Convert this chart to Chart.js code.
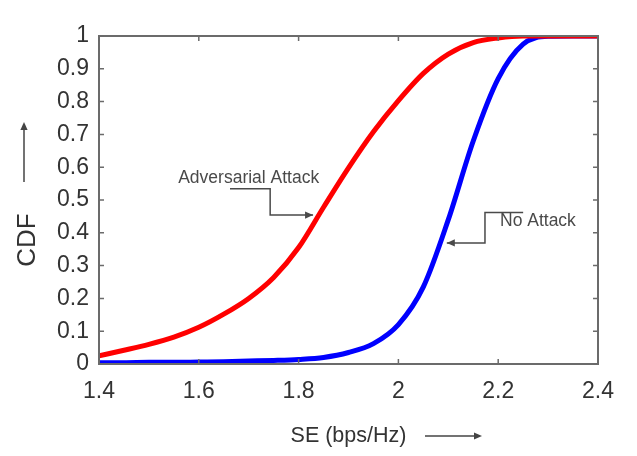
<!DOCTYPE html>
<html>
<head>
<meta charset="utf-8">
<script src="https://cdn.jsdelivr.net/npm/chart.js@4.4.1/dist/chart.umd.min.js"></script>
<style>
  html, body { margin: 0; padding: 0; background: #ffffff; }
  #wrap { width: 637px; height: 456px; position: relative; }
</style>
</head>
<body>
<div id="wrap"><canvas id="c" width="637" height="456"></canvas></div>
<script>
// ---- data ----
const seValues = [1.40, 1.45, 1.50, 1.55, 1.60, 1.65, 1.70, 1.75, 1.80, 1.85, 1.90, 1.95, 2.00, 2.05, 2.10, 2.15, 2.20, 2.25, 2.30, 2.35, 2.40];
const adversarialCdf = [0.025, 0.042, 0.060, 0.082, 0.112, 0.152, 0.200, 0.264, 0.355, 0.478, 0.598, 0.708, 0.803, 0.886, 0.945, 0.980, 0.994, 1.000, 1.000, 1.000, 1.000];
const noAttackCdf = [0.004, 0.004, 0.005, 0.005, 0.006, 0.007, 0.009, 0.011, 0.014, 0.020, 0.035, 0.062, 0.120, 0.235, 0.440, 0.680, 0.870, 0.975, 0.999, 1.000, 1.000];
const xTickValues = [1.4, 1.6, 1.8, 2.0, 2.2, 2.4];
const yTickValues = [0, 0.1, 0.2, 0.3, 0.4, 0.5, 0.6, 0.7, 0.8, 0.9, 1];
const xTitle = 'SE (bps/Hz)';
const yTitle = 'CDF';
const annotations = [
  { text: 'Adversarial Attack', textAt: [1.70, 0.567], align: 'center',
    path: [[1.6625, 0.534], [1.743, 0.534], [1.743, 0.454], [1.829, 0.454]] },
  { text: 'No Attack', textAt: [2.2036, 0.436], align: 'left',
    path: [[2.25, 0.462], [2.1735, 0.462], [2.1735, 0.369], [2.097, 0.369]] }
];

const toPts = (ys) => seValues.map((x, i) => ({ x: x, y: ys[i] }));
const fmt = (v) => String(+v.toFixed(1));

function arrowHead(ctx, x, y, dir, size) {
  ctx.save();
  ctx.translate(x, y);
  ctx.rotate(dir);
  ctx.beginPath();
  ctx.moveTo(0, 0);
  ctx.lineTo(-size, -size * 0.45);
  ctx.lineTo(-size, size * 0.45);
  ctx.closePath();
  ctx.fill();
  ctx.restore();
}

const decor = {
  id: 'decor',
  afterDatasetsDraw(chart) {
    const { ctx, chartArea: a, scales: { x, y } } = chart;
    ctx.save();
    // frame
    ctx.strokeStyle = '#6b6b6b';
    ctx.lineWidth = 2;
    ctx.strokeRect(a.left, a.top, a.right - a.left, a.bottom - a.top);
    // inward tick marks on all four sides
    ctx.lineWidth = 1.5;
    const tl = 5;
    xTickValues.forEach(v => {
      const px = x.getPixelForValue(v);
      ctx.beginPath();
      ctx.moveTo(px, a.bottom); ctx.lineTo(px, a.bottom - tl);
      ctx.moveTo(px, a.top); ctx.lineTo(px, a.top + tl);
      ctx.stroke();
    });
    yTickValues.forEach(v => {
      const py = y.getPixelForValue(v);
      ctx.beginPath();
      ctx.moveTo(a.left, py); ctx.lineTo(a.left + tl, py);
      ctx.moveTo(a.right, py); ctx.lineTo(a.right - tl, py);
      ctx.stroke();
    });

    // annotations
    ctx.font = '17.5px "Liberation Sans", Arial, sans-serif';
    ctx.fillStyle = '#4a4a4a';
    ctx.strokeStyle = '#4a4a4a';
    ctx.textBaseline = 'middle';
    annotations.forEach(an => {
      ctx.textAlign = an.align;
      ctx.fillText(an.text, x.getPixelForValue(an.textAt[0]), y.getPixelForValue(an.textAt[1]));
      const pts = an.path.map(p => [x.getPixelForValue(p[0]), y.getPixelForValue(p[1])]);
      ctx.lineWidth = 1.5;
      ctx.beginPath();
      pts.forEach((p, i) => i ? ctx.lineTo(p[0], p[1]) : ctx.moveTo(p[0], p[1]));
      ctx.stroke();
      const n = pts.length;
      const dir = Math.atan2(pts[n-1][1] - pts[n-2][1], pts[n-1][0] - pts[n-2][0]);
      arrowHead(ctx, pts[n-1][0], pts[n-1][1], dir, 8);
    });

    // y-axis title with arrow
    ctx.fillStyle = '#333333';
    ctx.strokeStyle = '#444444';
    ctx.font = '26px "Liberation Sans", Arial, sans-serif';
    ctx.save();
    ctx.translate(28, a.top + 204);
    ctx.rotate(-Math.PI / 2);
    ctx.textAlign = 'center';
    ctx.textBaseline = 'middle';
    ctx.fillText(yTitle, 0, 0);
    ctx.restore();
    ctx.lineWidth = 1.5;
    ctx.beginPath();
    ctx.moveTo(24, a.top + 146); ctx.lineTo(24, a.top + 92);
    ctx.stroke();
    ctx.fillStyle = '#444444';
    arrowHead(ctx, 24, a.top + 86, -Math.PI / 2, 8);

    // x-axis title arrow
    ctx.beginPath();
    ctx.moveTo(a.left + 326, 436); ctx.lineTo(a.left + 377, 436);
    ctx.stroke();
    arrowHead(ctx, a.left + 383, 436, 0, 8);
    ctx.restore();
  }
};

new Chart(document.getElementById('c'), {
  type: 'line',
  data: {
    datasets: [
      { label: 'Adversarial Attack', data: toPts(adversarialCdf), borderColor: '#ff0000',
        borderWidth: 5, pointRadius: 0, cubicInterpolationMode: 'monotone', fill: false },
      { label: 'No Attack', data: toPts(noAttackCdf), borderColor: '#0000ff',
        borderWidth: 5, pointRadius: 0, cubicInterpolationMode: 'monotone', fill: false }
    ]
  },
  options: {
    responsive: false,
    animation: false,
    devicePixelRatio: 1,
    layout: { padding: { top: 36, right: 39, left: 0, bottom: 0 } },
    plugins: { legend: { display: false }, tooltip: { enabled: false } },
    scales: {
      x: {
        type: 'linear', min: 1.4, max: 2.4,
        afterBuildTicks: (s) => { s.ticks = xTickValues.map(v => ({ value: v })); },
        afterFit: (s) => { s.height = 92; },
        grid: { display: false, drawTicks: false },
        border: { display: false },
        ticks: { color: '#333333', padding: 14, maxRotation: 0,
          font: { family: '"Liberation Sans", Arial, sans-serif', size: 23 },
          callback: (v) => fmt(v) },
        title: { display: true, text: xTitle, color: '#333333',
          font: { family: '"Liberation Sans", Arial, sans-serif', size: 21.5 },
          padding: { top: 0, bottom: 7 } }
      },
      y: {
        type: 'linear', min: 0, max: 1,
        afterBuildTicks: (s) => { s.ticks = yTickValues.map(v => ({ value: v })); },
        afterFit: (s) => { s.width = 99; },
        grid: { display: false, drawTicks: false },
        border: { display: false },
        ticks: { color: '#333333', padding: 10,
          font: { family: '"Liberation Sans", Arial, sans-serif', size: 23 },
          callback: (v) => fmt(v) }
      }
    }
  },
  plugins: [decor]
});
</script>
</body>
</html>
